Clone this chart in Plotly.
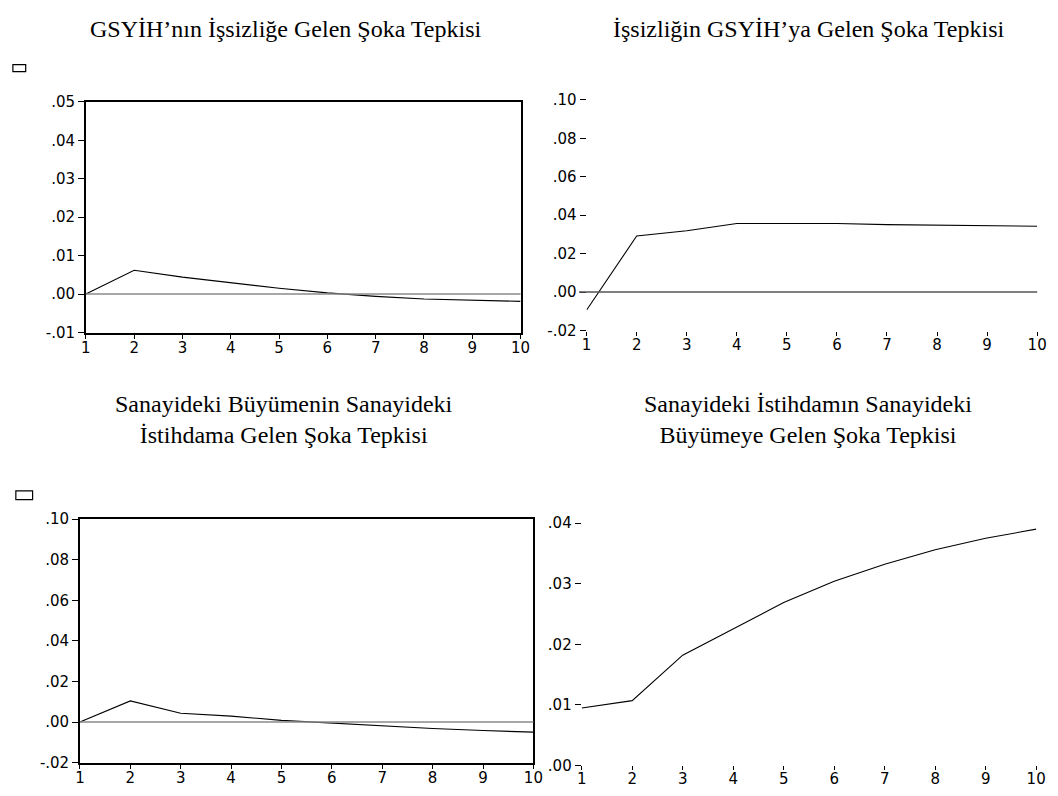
import plotly.graph_objects as go

W, H = 1058, 796

periods = [1, 2, 3, 4, 5, 6, 7, 8, 9, 10]

# Impulse responses (10 periods)
gdp_to_unemp = [0.0, 0.0062, 0.0044, 0.0030, 0.0015, 0.0003, -0.0006, -0.0013, -0.0016, -0.0019]
unemp_to_gdp = [-0.0093, 0.0292, 0.0319, 0.0357, 0.0357, 0.0357, 0.0351, 0.0348, 0.0345, 0.0343]
indgrowth_to_emp = [0.0, 0.0104, 0.0043, 0.0029, 0.0008, -0.0006, -0.0021, -0.0032, -0.0042, -0.0050]
indemp_to_growth = [0.0095, 0.0107, 0.0182, 0.0226, 0.0269, 0.0304, 0.0332, 0.0356, 0.0375, 0.0390]

titles = [
    "GSYİH’nın İşsizliğe Gelen Şoka Tepkisi",
    "İşsizliğin GSYİH’ya Gelen Şoka Tepkisi",
    "Sanayideki Büyümenin Sanayideki<br>İstihdama Gelen Şoka Tepkisi",
    "Sanayideki İstihdamın Sanayideki<br>Büyümeye Gelen Şoka Tepkisi",
]

x_ticks = ["1", "2", "3", "4", "5", "6", "7", "8", "9", "10"]
y_vals_1 = [-0.01, 0.0, 0.01, 0.02, 0.03, 0.04, 0.05]
y_text_1 = ["-.01", ".00", ".01", ".02", ".03", ".04", ".05"]
y_vals_2 = [-0.02, 0.0, 0.02, 0.04, 0.06, 0.08, 0.10]
y_text_2 = ["-.02", ".00", ".02", ".04", ".06", ".08", ".10"]
y_vals_4 = [0.0, 0.01, 0.02, 0.03, 0.04]
y_text_4 = [".00", ".01", ".02", ".03", ".04"]


def px_x(a, b):
    return [a / W, b / W]


def px_y(top, bottom):
    return [1 - bottom / H, 1 - top / H]


TICKFONT = dict(family="DejaVu Sans", size=15, color="black")

fig = go.Figure()

series = [gdp_to_unemp, unemp_to_gdp, indgrowth_to_emp, indemp_to_growth]
for i, ys in enumerate(series, start=1):
    sfx = "" if i == 1 else str(i)
    fig.add_trace(go.Scatter(
        x=periods, y=ys, mode="lines",
        line=dict(color="black", width=1.1),
        xaxis="x" + sfx, yaxis="y" + sfx,
        showlegend=False, hoverinfo="skip",
    ))

panels = {
    1: dict(xd=px_x(82, 523), yd=px_y(95, 331), yr=[-0.01, 0.05], tv=y_vals_1, tt=y_text_1, box=True),
    2: dict(xd=px_x(590, 1047), yd=px_y(93, 329), yr=[-0.02, 0.10], tv=y_vals_2, tt=y_text_2, box=False),
    3: dict(xd=px_x(76, 536), yd=px_y(522, 771), yr=[-0.02, 0.10], tv=y_vals_2, tt=y_text_2, box=True),
    4: dict(xd=px_x(585, 1046), yd=px_y(526, 774), yr=[0.0, 0.04], tv=y_vals_4, tt=y_text_4, box=False),
}

layout = {}
for i, p in panels.items():
    sfx = "" if i == 1 else str(i)
    layout["xaxis" + sfx] = dict(
        domain=p["xd"], anchor="y" + sfx, range=[1, 10],
        tickvals=periods, ticktext=x_ticks,
        ticks="outside", ticklen=5 if p["box"] else 4, tickcolor="black", tickwidth=1,
        showline=p["box"], mirror=p["box"], linecolor="black", linewidth=1.5,
        showgrid=False, zeroline=False, tickfont=TICKFONT, fixedrange=True,
        ticklabelstandoff=-4,
    )
    layout["yaxis" + sfx] = dict(
        domain=p["yd"], anchor="x" + sfx, range=p["yr"],
        tickvals=p["tv"], ticktext=p["tt"],
        ticks="outside", ticklen=6, tickcolor="black", tickwidth=1,
        showline=p["box"], mirror=p["box"], linecolor="black", linewidth=1.5,
        showgrid=False, zeroline=False, tickfont=TICKFONT, fixedrange=True,
    )

shapes = []
# zero reference lines
for i, col in [(1, "#8a8a8a"), (2, "#555555"), (3, "#8a8a8a")]:
    sfx = "" if i == 1 else str(i)
    x0 = 0.0 if panels[i]["box"] else -0.017
    shapes.append(dict(type="line", xref="x" + sfx + " domain", yref="y" + sfx,
                       x0=x0, x1=1, y0=0, y1=0,
                       line=dict(color=col, width=1.5)))

# small empty marker boxes at the top-left of each row
for (a, b, t, bt) in [(8, 21, 57, 64), (11, 28, 493, 502)]:
    shapes.append(dict(type="rect", xref="paper", yref="paper",
                       x0=a / W, x1=b / W, y0=1 - bt / H, y1=1 - t / H,
                       line=dict(color="black", width=1.2), fillcolor="white"))

annotations = []
title_pos = [(285, 20), (815, 20), (283, 420), (815, 420)]
for text, (cx, cy) in zip(titles, title_pos):
    annotations.append(dict(
        text=text, x=cx / W, y=1 - cy / H, xref="paper", yref="paper",
        xanchor="center", yanchor="middle", showarrow=False, align="center",
        font=dict(family="Liberation Serif", size=24, color="black"),
    ))

fig.update_layout(
    width=W, height=H,
    margin=dict(l=0, r=0, t=0, b=0),
    paper_bgcolor="white", plot_bgcolor="white",
    shapes=shapes, annotations=annotations,
    **layout,
)

fig.write_html("out.html")
